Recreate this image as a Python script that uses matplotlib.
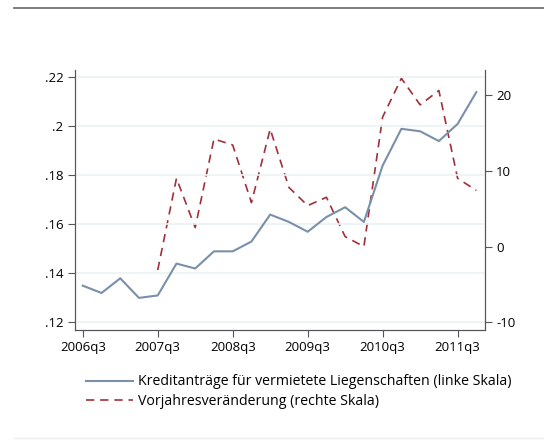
import matplotlib.pyplot as plt
from matplotlib.lines import Line2D

plt.rcParams['font.family'] = ['Open Sans', 'DejaVu Sans']

quarters = list(range(22))  # 2006q3 .. 2011q4
tick_pos = [0, 4, 8, 12, 16, 20]
tick_labels = ['2006q3', '2007q3', '2008q3', '2009q3', '2010q3', '2011q3']

antraege = [.135, .132, .138, .130, .131, .144, .142, .149, .149, .153, .164,
            .161, .157, .163, .167, .161, .184, .199, .198, .194, .201, .214]
# Vorjahresveränderung starts 2007q3
veraenderung = [-3.1, 9.0, 2.5, 14.2, 13.4, 5.8, 15.5, 7.8, 5.4, 6.5, 1.3,
                0.0, 17.1, 22.2, 18.7, 20.6, 9.0, 7.4]

blue = '#7a90a8'
red = '#a0303a'
spine_col = '#555555'

fig = plt.figure(figsize=(5.44, 4.42), dpi=100)
ax = fig.add_axes([0.1373, 0.2534, 0.8915 - 0.1373, 0.8416 - 0.2534])
ax2 = ax.twinx()

ax.set_ylim(0.1169, 0.2230)
ax2.set_ylim(-11.02, 23.3)
ax.set_xlim(-0.43, 21.46)

for v in [.12, .14, .16, .18, .2, .22]:
    ax.axhline(v, color='#eaf2f3', lw=1.2, zorder=0)

ax.plot(quarters, antraege, color=blue, lw=1.5, zorder=3)
ax2.plot(quarters[4:], veraenderung, color=red, lw=1.2, dashes=(5, 3.5))

ax.set_yticks([.12, .14, .16, .18, .2, .22])
ax.set_yticklabels(['.12', '.14', '.16', '.18', '.2', '.22'])
ax2.set_yticks([-10, 0, 10, 20])
ax2.set_yticklabels(['-10', '0', '10', '20'])
ax.set_xticks(tick_pos)
ax.set_xticklabels(tick_labels)

for a in (ax, ax2):
    a.spines['top'].set_visible(False)
    for s in ('left', 'right', 'bottom'):
        a.spines[s].set_color(spine_col)
    a.tick_params(labelsize=9.5, length=5, color=spine_col, pad=3)

ax.patch.set_visible(False)
ax.set_zorder(ax2.get_zorder() + 1)

handles = [Line2D([], [], color=blue, lw=1.5),
           Line2D([], [], color=red, lw=1.2, dashes=(5, 3.5))]
labels = ['Kreditanträge für vermietete Liegenschaften (linke Skala)',
          'Vorjahresveränderung (rechte Skala)']
fig.legend(handles, labels, loc='center left', bbox_to_anchor=(0.148, 0.114),
           frameon=False, fontsize=10.2, handlelength=3.3, handletextpad=0.35,
           labelspacing=0.3, borderaxespad=0)

# rules of the cropped page
fig.add_artist(Line2D([0.025, 1.0], [1 - 8 / 442, 1 - 8 / 442], color='#666666', lw=1.2))
fig.add_artist(Line2D([0.025, 1.0], [1 - 438 / 442, 1 - 438 / 442], color='#eeeeee', lw=1))

fig.savefig('out.png', dpi=100)
